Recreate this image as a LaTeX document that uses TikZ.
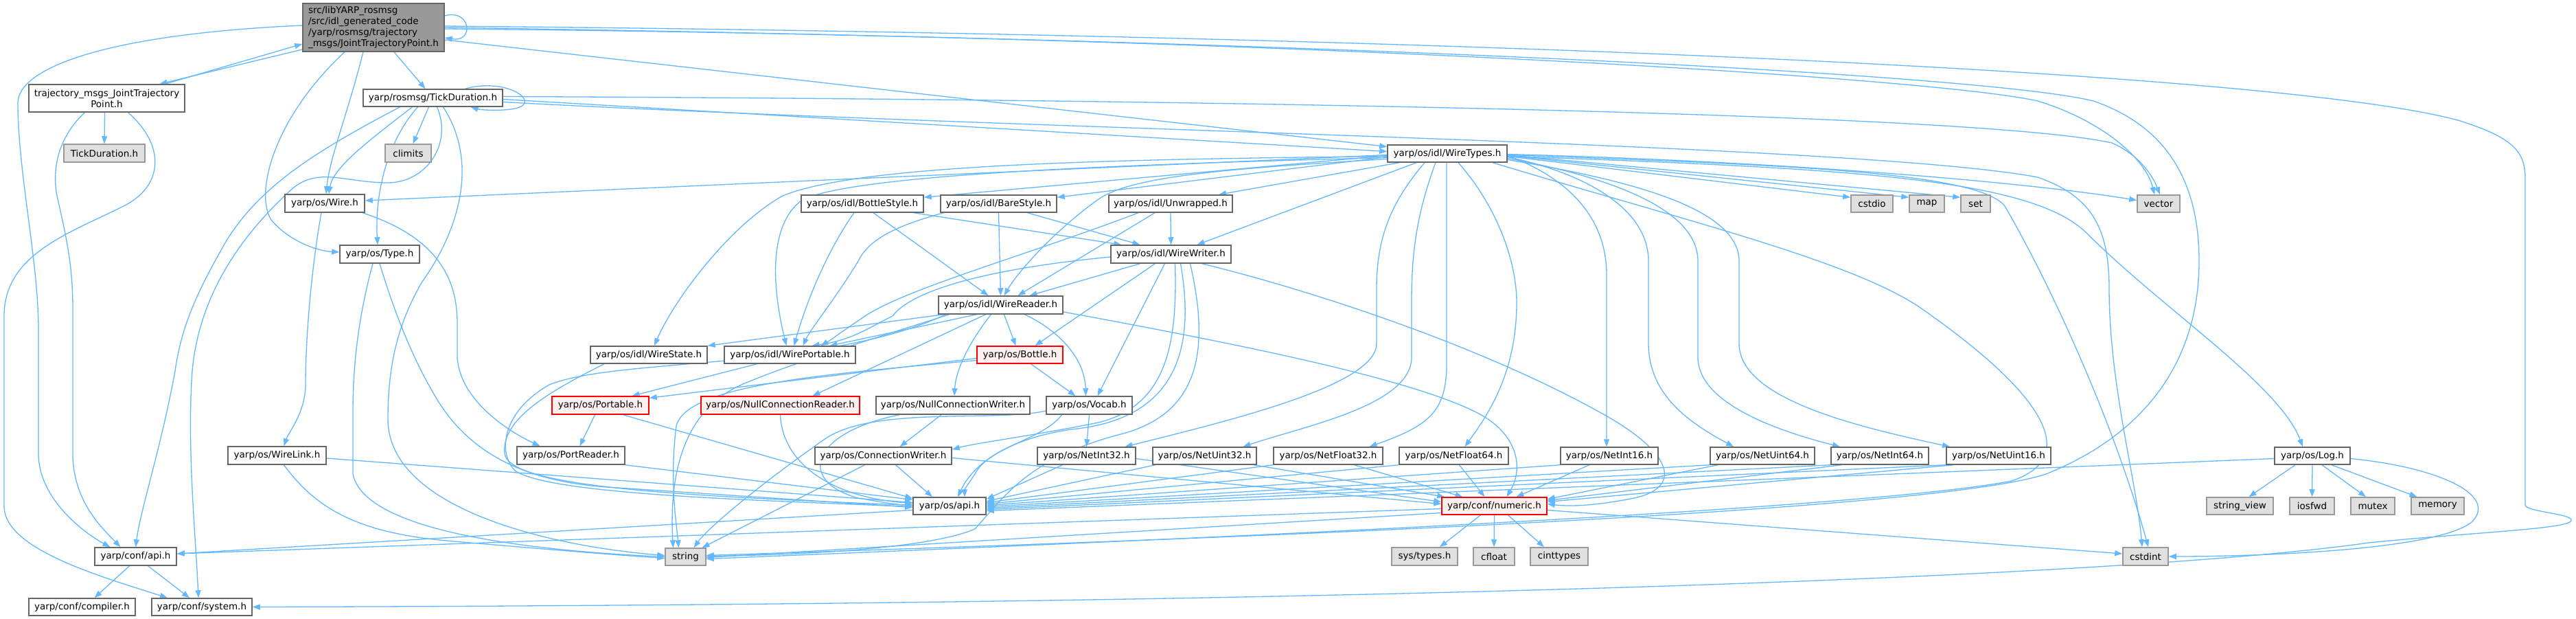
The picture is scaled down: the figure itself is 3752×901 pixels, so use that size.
\documentclass[tikz,border=0pt]{standalone}
\usepackage{fontspec}
\setmainfont{DejaVu Sans}
\usetikzlibrary{arrows.meta}
\definecolor{edgec}{HTML}{63B8FF}
\definecolor{ndb}{HTML}{666666}
\definecolor{extf}{HTML}{E0E0E0}
\definecolor{extb}{HTML}{999999}
\definecolor{trf}{HTML}{FFF0F0}
\definecolor{mainf}{HTML}{999999}
\newcommand\dxfont{\fontsize{13.5}{16}\selectfont}
\pgfdeclarelayer{bg}
\pgfdeclarelayer{edges}
\pgfsetlayers{bg,edges,main}
\tikzset{
  nd/.style={draw=ndb, fill=white, line width=1.5pt, inner sep=0pt, font=\dxfont},
  ext/.style={nd, draw=extb, fill=extf},
  trunc/.style={nd, draw=red, fill=trf},
  mainnd/.style={nd, fill=mainf},
  sz/.style 2 args={minimum width=#1pt, minimum height=#2pt},
  ed/.style={draw=edgec, line width=1.3pt, -{Triangle[length=11pt,width=8pt]}}
}
\begin{document}
\begin{tikzpicture}[x=1pt,y=-1pt]
\begin{pgfonlayer}{bg}
\path[use as bounding box, fill=white] (0,0) rectangle (3752,901);
\end{pgfonlayer}
% nodes
\node[mainnd, sz={206}{70}, align=left] (main) at (544,40) {src/libYARP\_rosmsg\\/src/idl\_generated\_code\\/yarp/rosmsg/trajectory\\\_msgs/JointTrajectoryPoint.h};
\node[nd, sz={227}{40}, align=center] (traj) at (155.5,143) {trajectory\_msgs\_JointTrajectory\\Point.h};
\node[ext, sz={118}{26}] (tdg) at (152,223) {TickDuration.h};
\node[nd, sz={203}{25}] (td) at (630.5,142.5) {yarp/rosmsg/TickDuration.h};
\node[ext, sz={67}{26}] (climits) at (594.5,223) {climits};
\node[nd, sz={116}{26}] (wire) at (473,296) {yarp/os/Wire.h};
\node[nd, sz={116}{26}] (type) at (553,370) {yarp/os/Type.h};
\node[nd, sz={143}{26}] (wirelink) at (403.5,663) {yarp/os/WireLink.h};
\node[nd, sz={157}{26}] (portreader) at (831.5,663) {yarp/os/PortReader.h};
\node[nd, sz={119}{26}] (confapi) at (197.5,810) {yarp/conf/api.h};
\node[nd, sz={155}{25}] (compiler) at (119.5,883.5) {yarp/conf/compiler.h};
\node[nd, sz={146}{25}] (system) at (294,883.5) {yarp/conf/system.h};
\node[nd, sz={178}{25}] (bottlestyle) at (1256,296.5) {yarp/os/idl/BottleStyle.h};
\node[nd, sz={169}{25}] (barestyle) at (1454.5,296.5) {yarp/os/idl/BareStyle.h};
\node[nd, sz={180}{25}] (unwrapped) at (1705,296.5) {yarp/os/idl/Unwrapped.h};
\node[nd, sz={175}{26}] (wirewriter) at (1705.5,370) {yarp/os/idl/WireWriter.h};
\node[nd, sz={181}{26}] (wirereader) at (1457.5,444) {yarp/os/idl/WireReader.h};
\node[nd, sz={170}{25}] (wirestate) at (945,516.5) {yarp/os/idl/WireState.h};
\node[nd, sz={191}{25}] (wireportable) at (1150.5,516.5) {yarp/os/idl/WirePortable.h};
\node[trunc, sz={125}{25}] (bottle) at (1485.5,516.5) {yarp/os/Bottle.h};
\node[trunc, sz={141}{26}] (portable) at (874.5,590) {yarp/os/Portable.h};
\node[trunc, sz={231}{26}] (ncreader) at (1136.5,590) {yarp/os/NullConnectionReader.h};
\node[nd, sz={224}{26}] (ncwriter) at (1388,590) {yarp/os/NullConnectionWriter.h};
\node[nd, sz={125}{26}] (vocab) at (1586.5,590) {yarp/os/Vocab.h};
\node[nd, sz={199}{25}] (connwriter) at (1286.5,663.5) {yarp/os/ConnectionWriter.h};
\node[nd, sz={143}{25}] (netint32) at (1582.5,663.5) {yarp/os/NetInt32.h};
\node[nd, sz={151}{25}] (netuint32) at (1754.5,663.5) {yarp/os/NetUint32.h};
\node[nd, sz={159}{25}] (netfloat32) at (1934.5,663.5) {yarp/os/NetFloat32.h};
\node[nd, sz={159}{25}] (netfloat64) at (2117.5,663.5) {yarp/os/NetFloat64.h};
\node[nd, sz={142}{25}] (netint16) at (2344,663.5) {yarp/os/NetInt16.h};
\node[nd, sz={152}{25}] (netuint64) at (2567,663.5) {yarp/os/NetUint64.h};
\node[nd, sz={142}{25}] (netint64) at (2738,663.5) {yarp/os/NetInt64.h};
\node[nd, sz={152}{25}] (netuint16) at (2911,663.5) {yarp/os/NetUint16.h};
\node[nd, sz={110}{25}] (log) at (3368,663.5) {yarp/os/Log.h};
\node[nd, sz={106}{25}] (osapi) at (1383,736.5) {yarp/os/api.h};
\node[trunc, sz={153}{25}] (numeric) at (2176.5,736.5) {yarp/conf/numeric.h};
\node[ext, sz={59}{25}] (string) at (998.5,810.5) {string};
\node[ext, sz={96}{26}] (systypes) at (2075,810) {sys/types.h};
\node[ext, sz={60}{26}] (cfloat) at (2176,810) {cfloat};
\node[ext, sz={84}{26}] (cinttypes) at (2271,810) {cinttypes};
\node[ext, sz={66}{26}] (cstdint) at (3125,810) {cstdint};
\node[nd, sz={174}{25}] (wiretypes) at (2108,223.5) {yarp/os/idl/WireTypes.h};
\node[ext, sz={61}{25}] (cstdio) at (2726.5,296.5) {cstdio};
\node[ext, sz={51}{25}] (map) at (2806.5,296.5) {map};
\node[ext, sz={43}{25}] (set) at (2877.5,296.5) {set};
\node[ext, sz={62}{25}] (vector) at (3144,296.5) {vector};
\node[ext, sz={97}{25}] (stringview) at (3262.5,736.5) {string\_view};
\node[ext, sz={65}{25}] (iosfwd) at (3367.5,736.5) {iosfwd};
\node[ext, sz={64}{25}] (mutex) at (3456,736.5) {mutex};
\node[ext, sz={77}{25}] (memory) at (3550.5,736.5) {memory};

\begin{pgfonlayer}{edges}
% main
\draw[ed] ([yshift=17pt]main.east) .. controls (685,12) and (692,62) .. ([yshift=-15pt]main.east);
\draw[ed] ([yshift=-32pt]main.west) -- ([xshift=77pt]traj.north);
\draw[ed] ([xshift=85pt]traj.north) -- ([yshift=-24pt]main.west);
\draw[ed] ([xshift=30pt]main.south) -- ([xshift=-11pt]td.north);
\draw[ed] ([xshift=-15pt]main.south) .. controls (505,170) and (480,230) .. ([xshift=2pt]wire.north);
\draw[ed] ([xshift=-42pt]main.south) .. controls (400,170) and (370,280) .. (395,320) .. controls (420,350) and (460,365) .. ([yshift=3pt]type.west);
\draw[ed] ([yshift=-18pt]main.east) -- ([yshift=10pt]wiretypes.west);
\draw[ed] ([yshift=-2pt]main.east) .. controls (1800,52) and (2800,110) .. (2968,147) .. controls (3060,175) and (3125,230) .. ([xshift=-6pt]vector.north);
\draw[ed] (main.east) .. controls (2000,60) and (2900,110) .. (3049,147) .. controls (3160,185) and (3203,270) .. (3203,380) .. controls (3203,520) and (3130,630) .. (2980,690) .. controls (2800,750) and (1600,790) .. ([yshift=2pt]string.east);
\draw[ed] ([yshift=2pt]main.east) .. controls (2000,50) and (3300,100) .. (3580,175) .. controls (3660,200) and (3678,220) .. (3678,260) -- (3678,735) .. controls (3678,745) and (3750,748) .. (3745,758) .. controls (3740,770) and (3600,775) .. (3450,790) .. controls (3100,840) and (2000,880) .. (system.east);
\draw[ed] ([yshift=3pt]main.west) .. controls (150,50) and (26,100) .. (26,150) .. controls (26,250) and (56,380) .. (56,480) -- (56,660) .. controls (56,730) and (130,780) .. ([xshift=-37pt]confapi.north);
% traj
\draw[ed] ([xshift=-3pt]traj.south) -- (tdg.north);
\draw[ed] ([xshift=-32pt]traj.south) .. controls (95,190) and (75,230) .. (82,280) .. controls (95,340) and (106,380) .. (106,450) -- (106,660) .. controls (106,730) and (150,770) .. ([xshift=-22pt]confapi.north);
\draw[ed] ([xshift=31pt]traj.south) .. controls (240,210) and (240,270) .. (180,300) .. controls (100,340) and (6,370) .. (6,460) -- (6,737) .. controls (6,800) and (150,840) .. ([xshift=-50pt]system.north);
% td
\draw[ed] ([xshift=47pt]td.north) .. controls (740,112) and (790,150) .. (750,158) .. controls (730,162) and (700,160) .. ([xshift=55pt]td.south);
\draw[ed] ([xshift=-6pt]td.south) -- ([xshift=7pt]climits.north);
\draw[ed] ([xshift=-30pt]td.south) .. controls (530,210) and (485,245) .. ([xshift=6pt]wire.north);
\draw[ed] ([xshift=-22pt]td.south) .. controls (560,210) and (546,290) .. ([xshift=-3pt]type.north);
\draw[ed] ([yshift=-2pt]td.east) -- ([yshift=3pt]wiretypes.west);
\draw[ed] ([yshift=2pt]td.east) .. controls (1800,145) and (2880,165) .. (3076,208) .. controls (3115,225) and (3135,255) .. ([xshift=2pt]vector.north);
\draw[ed] ([yshift=-6pt]td.east) .. controls (1500,190) and (2700,208) .. (2968,258) .. controls (3045,285) and (3072,330) .. (3072,420) .. controls (3072,560) and (3112,700) .. ([xshift=-5pt]cstdint.north);
\draw[ed] ([xshift=-48pt]td.south) .. controls (460,220) and (380,270) .. (330,350) .. controls (290,420) and (265,470) .. (255,540) .. controls (235,650) and (205,740) .. (confapi.north);
\draw[ed] ([xshift=6pt]td.south) .. controls (660,210) and (620,266) .. (565,266) .. controls (500,266) and (460,240) .. (420,280) .. controls (350,345) and (290,430) .. (280,540) .. controls (272,650) and (285,780) .. ([xshift=-5pt]system.north);
\draw[ed] ([xshift=15pt]td.south) .. controls (700,240) and (665,340) .. (615,410) .. controls (580,470) and (565,530) .. (565,610) .. controls (565,740) and (800,795) .. ([yshift=2pt]string.west);
% wire
\draw[ed] ([xshift=-5pt]wire.south) .. controls (452,400) and (445,500) .. (445,560) .. controls (445,600) and (420,630) .. ([xshift=10pt]wirelink.north);
\draw[ed] ([xshift=55pt]wire.south) .. controls (620,340) and (666,390) .. (666,470) -- (666,520) .. controls (670,585) and (745,630) .. ([xshift=-45pt]portreader.north);
% wirelink, portreader, type, portable
\draw[ed] ([yshift=-4pt]wirelink.east) -- ([yshift=5pt]osapi.west);
\draw[ed] ([xshift=10pt]wirelink.south) .. controls (460,740) and (520,775) .. (650,787) .. controls (800,800) and (900,808) .. ([yshift=-2pt]string.west);
\draw[ed] (portreader.south east) -- ([yshift=9pt]osapi.west);
\draw[ed] (type.south) .. controls (570,440) and (595,510) .. (630,570) .. controls (690,680) and (800,705) .. (900,710) -- ([yshift=-2pt]osapi.west);
\draw[ed] ([xshift=-10pt]type.south) .. controls (525,450) and (514,520) .. (514,600) -- (514,690) .. controls (530,770) and (750,800) .. (string.west);
\draw[ed] ([xshift=-8pt]portable.south) -- ([xshift=13pt]portreader.north);
\draw[ed] ([xshift=33pt]portable.south) -- ([yshift=11pt]osapi.west);
% conf api
\draw[ed] ([xshift=-9pt]confapi.south) -- ([xshift=18pt]compiler.north);
\draw[ed] ([xshift=18pt]confapi.south) -- ([xshift=-18pt]system.north);
\draw[ed] ([yshift=-6pt]osapi.west) -- ([yshift=4pt]confapi.east);
\draw[ed] ([yshift=-4pt]numeric.west) -- ([yshift=4pt]confapi.east);
% numeric
\draw[ed] ([xshift=-20pt]numeric.south) -- ([xshift=22pt]systypes.north);
\draw[ed] (numeric.south) -- (cfloat.north);
\draw[ed] ([xshift=20pt]numeric.south) -- ([xshift=-22pt]cinttypes.north);
\draw[ed] ([yshift=-6pt]numeric.east) -- ([yshift=4pt]cstdint.west);
\draw[ed] ([yshift=-10pt]numeric.west) -- ([yshift=-1pt]string.east);
% wiretypes
\draw[ed] ([yshift=-3pt]wiretypes.west) -- ([yshift=-4pt]bottlestyle.north east);
\draw[ed] ([yshift=-5pt]wiretypes.west) -- ([yshift=-4pt]barestyle.north east);
\draw[ed] ([xshift=-70pt]wiretypes.south) -- ([xshift=70pt]unwrapped.north);
\draw[ed] ([xshift=-45pt]wiretypes.south) -- ([xshift=38pt]wirewriter.north);
\draw[ed] ([yshift=-8pt]wiretypes.west) .. controls (1800,245) and (1650,255) .. (1600,290) .. controls (1530,340) and (1480,400) .. ([xshift=5pt]wirereader.north);
\draw[ed] ([yshift=-6pt]wiretypes.west) .. controls (1600,240) and (1250,255) .. (1170,290) .. controls (1125,320) and (1120,400) .. ([xshift=-5pt]wireportable.north);
\draw[ed] ([yshift=-4pt]wiretypes.west) .. controls (1600,232) and (1250,240) .. (1140,285) .. controls (1060,330) and (980,440) .. ([xshift=8pt]wirestate.north);
\draw[ed] ([yshift=-2pt]wiretypes.west) -- ([yshift=4pt]wire.east);
\draw[ed] ([xshift=-33pt]wiretypes.south) .. controls (2030,290) and (2005,340) .. (2005,420) -- (2005,500) .. controls (2005,560) and (1800,610) .. ([xshift=56pt]netint32.north);
\draw[ed] ([xshift=-17pt]wiretypes.south) .. controls (2060,320) and (2056,380) .. (2056,440) -- (2056,520) .. controls (2056,590) and (1900,620) .. ([xshift=56pt]netuint32.north);
\draw[ed] ([xshift=-1pt]wiretypes.south) -- (2107,530) .. controls (2107,600) and (2080,620) .. ([xshift=60pt]netfloat32.north);
\draw[ed] ([xshift=16pt]wiretypes.south) .. controls (2180,300) and (2209,380) .. (2209,440) .. controls (2209,540) and (2170,600) .. ([xshift=16pt]netfloat64.north);
\draw[ed] ([yshift=-3pt]wiretypes.east) .. controls (2260,250) and (2340,300) .. (2340,400) -- ([xshift=-4pt]netint16.north);
\draw[ed] ([yshift=-5pt]wiretypes.east) .. controls (2300,250) and (2401,300) .. (2401,380) -- (2401,500) .. controls (2401,580) and (2470,620) .. ([xshift=-42pt]netuint64.north);
\draw[ed] ([yshift=-7pt]wiretypes.east) .. controls (2330,255) and (2473,300) .. (2473,380) -- (2473,520) .. controls (2473,590) and (2600,630) .. ([xshift=-58pt]netint64.north);
\draw[ed] ([yshift=-9pt]wiretypes.east) .. controls (2360,260) and (2533,300) .. (2533,380) -- (2533,500) .. controls (2533,580) and (2700,620) .. ([xshift=-71pt]netuint16.north);
\draw[ed] ([yshift=-4pt]wiretypes.east) -- ([yshift=-4pt]cstdio.north west);
\draw[ed] ([yshift=-3pt]wiretypes.east) -- ([yshift=-4pt]map.north west);
\draw[ed] ([yshift=-2pt]wiretypes.east) -- ([yshift=-4pt]set.north west);
\draw[ed] ([yshift=-1pt]wiretypes.east) .. controls (2600,235) and (2950,265) .. ([yshift=5pt]vector.west);
\draw[ed] ([yshift=-4pt]wiretypes.east) .. controls (2700,245) and (2960,260) .. (3040,340) .. controls (3150,450) and (3320,560) .. ([xshift=-14pt]log.north);
\draw[ed] ([yshift=-2pt]wiretypes.east) .. controls (2600,240) and (2880,250) .. (2920,300) .. controls (2990,420) and (3080,620) .. ([xshift=4pt]cstdint.north);
\draw[ed] ([xshift=66pt]wiretypes.south) .. controls (2450,320) and (2700,380) .. (2800,450) .. controls (3000,590) and (3020,670) .. (2930,700) .. controls (2700,745) and (1600,790) .. ([yshift=-3pt]string.east);
% bottlestyle, barestyle, unwrapped
\draw[ed] ([xshift=75pt]bottlestyle.south) -- ([xshift=-72pt]wirewriter.north);
\draw[ed] ([xshift=16pt]bottlestyle.south) -- ([xshift=-18pt]wirereader.north);
\draw[ed] ([xshift=-12pt]bottlestyle.south) .. controls (1215,350) and (1180,420) .. ([xshift=6pt]wireportable.north);
\draw[ed] ([xshift=42pt]barestyle.south) -- ([xshift=-45pt]wirewriter.north);
\draw[ed] (barestyle.south) -- (wirereader.north);
\draw[ed] ([xshift=-80pt]barestyle.south) .. controls (1300,330) and (1265,350) .. (1250,380) .. controls (1220,430) and (1180,480) .. ([xshift=19pt]wireportable.north);
\draw[ed] (unwrapped.south) -- (wirewriter.north);
\draw[ed] ([xshift=-23pt]unwrapped.south) -- ([xshift=25pt]wirereader.north);
\draw[ed] ([xshift=-47pt]unwrapped.south) .. controls (1500,370) and (1320,420) .. (1260,460) .. controls (1230,480) and (1210,495) .. ([xshift=45pt]wireportable.north);
% wirewriter
\draw[ed] ([xshift=-45pt]wirewriter.south) -- ([xshift=42pt]wirereader.north);
\draw[ed] ([yshift=-4pt]wirewriter.west) .. controls (1450,390) and (1330,420) .. (1300,460) .. controls (1260,480) and (1240,495) .. ([xshift=32pt]wireportable.north);
\draw[ed] ([xshift=-23pt]wirewriter.south) -- ([xshift=22pt]bottle.north);
\draw[ed] ([xshift=-9pt]wirewriter.south) -- ([xshift=12pt]vocab.north);
\draw[ed] ([xshift=6pt]wirewriter.south) .. controls (1715,500) and (1700,590) .. (1600,615) .. controls (1500,635) and (1420,645) .. ([yshift=-4pt]connwriter.north east);
\draw[ed] ([xshift=14pt]wirewriter.south) .. controls (1740,500) and (1720,610) .. (1560,625) .. controls (1460,640) and (1415,680) .. ([xshift=12pt]osapi.north);
\draw[ed] ([xshift=28pt]wirewriter.south) .. controls (1765,520) and (1740,600) .. (1640,630) .. controls (1500,665) and (1465,720) .. (1420,770) .. controls (1350,800) and (1150,808) .. ([yshift=1pt]string.east);
\draw[ed] ([xshift=45pt]wirewriter.south) .. controls (1900,420) and (2150,500) .. (2330,600) .. controls (2440,660) and (2450,710) .. (2380,725) .. controls (2330,735) and (2290,738) .. ([yshift=3pt]numeric.east);
% wirereader
\draw[ed] ([xshift=-83pt]wirereader.south) -- (wirestate.north east);
\draw[ed] ([xshift=-35pt]wirereader.south) -- ([xshift=58pt]wireportable.north);
\draw[ed] ([xshift=5pt]wirereader.south) -- ([xshift=-6pt]bottle.north);
\draw[ed] ([xshift=35pt]wirereader.south) .. controls (1540,480) and (1580,520) .. ([xshift=-5pt]vocab.north);
\draw[ed] ([xshift=-14pt]wirereader.south) .. controls (1410,500) and (1392,540) .. ([xshift=2pt]ncwriter.north);
\draw[ed] ([xshift=-22pt]wirereader.south) -- ([xshift=47pt]ncreader.north);
\draw[ed] ([xshift=-75pt]wirereader.south) .. controls (1250,500) and (1150,530) .. (1080,560) .. controls (990,600) and (975,700) .. ([xshift=-18pt]string.north);
\draw[ed] ([yshift=-10pt]wirereader.east) .. controls (1800,500) and (2050,550) .. (2150,600) .. controls (2210,630) and (2220,680) .. ([xshift=18pt]numeric.north);
\draw[ed] ([xshift=-80pt]wirereader.south) .. controls (1200,540) and (900,520) .. (800,560) .. controls (730,600) and (725,660) .. (750,685) .. controls (800,720) and (1100,728) .. ([yshift=-1pt]osapi.west);
% wirestate, wireportable, bottle
\draw[ed] ([xshift=-65pt]wirestate.south) .. controls (800,570) and (730,610) .. (735,660) .. controls (740,710) and (1000,722) .. ([yshift=1pt]osapi.west);
\draw[ed] ([xshift=-48pt]wireportable.south) -- ([xshift=46pt]portable.north);
\draw[ed] ([yshift=-5pt]bottle.west) -- ([yshift=-3pt]portable.north east);
\draw[ed] ([yshift=-8pt]bottle.west) .. controls (1200,545) and (1000,560) .. (985,620) .. controls (975,700) and (985,760) .. ([xshift=-10pt]string.north);
\draw[ed] ([xshift=16pt]bottle.south) -- ([xshift=-20pt]vocab.north);
% null connection reader/writer, vocab, connwriter
\draw[ed] (ncreader.south) .. controls (1140,680) and (1220,725) .. ([yshift=4pt]osapi.west);
\draw[ed] ([xshift=-17pt]ncwriter.south) -- ([xshift=24pt]connwriter.north);
\draw[ed] ([xshift=-78pt]ncwriter.south) .. controls (1180,630) and (1160,700) .. (1250,725) .. controls (1290,732) and (1310,735) .. ([yshift=2pt]osapi.west);
\draw[ed] (vocab.south) -- (netint32.north);
\draw[ed] ([yshift=-8pt]vocab.west) .. controls (1450,615) and (1270,590) .. (1200,640) .. controls (1100,710) and (1030,770) .. ([xshift=12pt]string.north);
\draw[ed] ([xshift=-40pt]vocab.south) .. controls (1520,640) and (1440,650) .. (1420,690) .. controls (1410,705) and (1405,712) .. ([xshift=22pt]osapi.north);
\draw[ed] ([xshift=18pt]connwriter.south) -- ([xshift=-25pt]osapi.north);
\draw[ed] ([xshift=-27pt]connwriter.south) -- ([xshift=24pt]string.north);
\draw[ed] ([yshift=-3pt]connwriter.east) -- ([yshift=3pt]numeric.west);
% net types
\draw[ed] ([xshift=-35pt]netint32.south) -- ([yshift=10pt]osapi.east);
\draw[ed] ([yshift=-4pt]netint32.east) -- ([yshift=6pt]numeric.west);
\draw[ed] ([xshift=-72pt]netuint32.south) -- ([yshift=7pt]osapi.east);
\draw[ed] ([xshift=72pt]netuint32.south) -- ([xshift=5pt]numeric.north west);
\draw[ed] (netfloat32.south west) -- ([yshift=5pt]osapi.east);
\draw[ed] ([xshift=38pt]netfloat32.south) -- ([xshift=-46pt]numeric.north);
\draw[ed] (netfloat64.south west) -- ([yshift=3pt]osapi.east);
\draw[ed] ([xshift=8pt]netfloat64.south) -- ([xshift=-14pt]numeric.north);
\draw[ed] (netint16.south west) -- ([yshift=1pt]osapi.east);
\draw[ed] ([xshift=-29pt]netint16.south) -- ([xshift=32pt]numeric.north);
\draw[ed] (netuint64.south west) -- ([yshift=-1pt]osapi.east);
\draw[ed] ([xshift=-65pt]netuint64.south) -- ([yshift=10pt]numeric.east);
\draw[ed] (netint64.south west) -- ([yshift=-3pt]osapi.east);
\draw[ed] ([xshift=-56pt]netint64.south) -- ([yshift=8pt]numeric.east);
\draw[ed] (netuint16.south west) -- ([yshift=-5pt]osapi.east);
\draw[ed] ([xshift=-66pt]netuint16.south) -- ([yshift=6pt]numeric.east);
% log
\draw[ed] ([xshift=-25pt]log.south) -- ([xshift=13pt]stringview.north);
\draw[ed] (log.south) -- (iosfwd.north);
\draw[ed] ([xshift=14pt]log.south) -- ([xshift=-10pt]mutex.north);
\draw[ed] ([xshift=28pt]log.south) -- ([xshift=-30pt]memory.north);
\draw[ed] ([yshift=-4pt]log.west) -- ([yshift=-7pt]osapi.east);
\draw[ed] ([yshift=-4pt]log.east) .. controls (3550,680) and (3640,720) .. (3600,760) .. controls (3550,800) and (3300,810) .. (cstdint.east);
\end{pgfonlayer}
\end{tikzpicture}
\end{document}
